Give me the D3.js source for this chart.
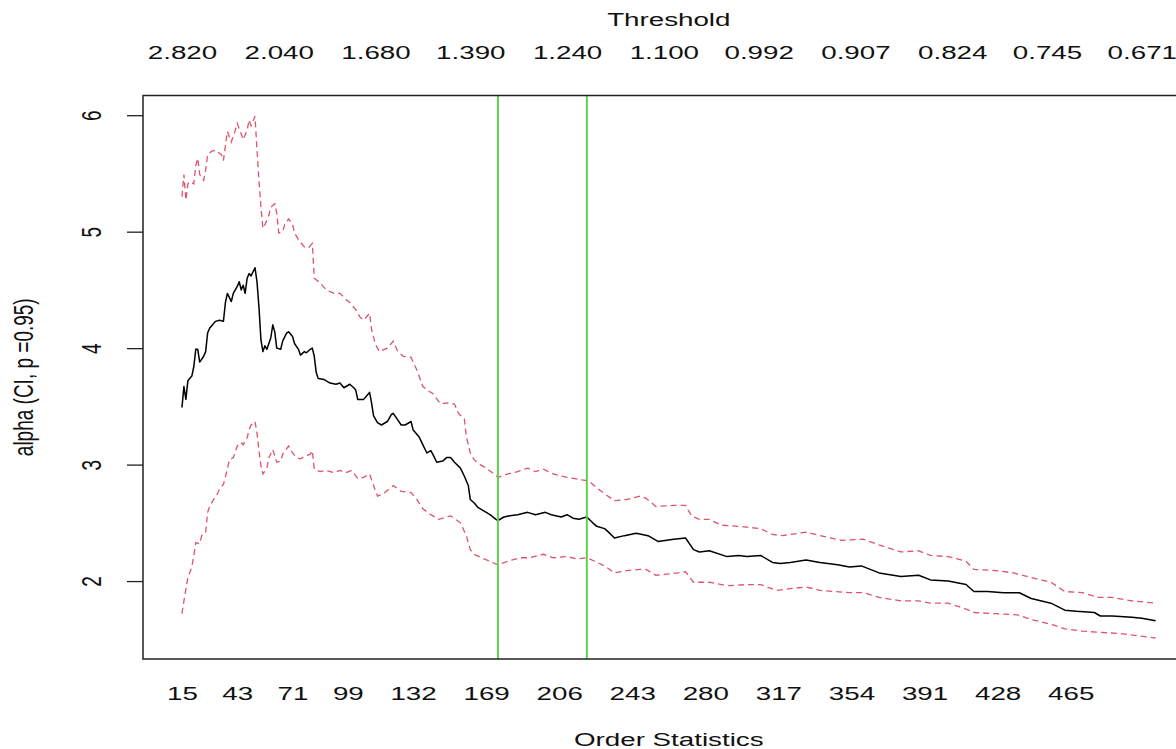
<!DOCTYPE html>
<html><head><meta charset="utf-8">
<script src="https://cdn.jsdelivr.net/npm/d3@7"></script>
<style>html,body{margin:0;padding:0;background:#fff;overflow:hidden}</style>
</head><body>
<svg id="chart" width="1176" height="749"></svg>
<script>
// ---- data ----
const alphaK = [15,16,17,18,20,21,22,23,24,26,27,28,29,32,34,36,37,38,40,41,43,44,45,46,47,48,49,50,52,53,54,55,56,57,58,60,61,62,63,65,66,68,69,71,72,74,75,77,78,80,81,82,83,84,87,90,93,95,97,100,102,103,104,107,109,110,111,112,114,116,119,121,122,124,126,128,131,132,135,137,139,141,142,144,147,149,151,153,156,158,160,161,163,165,168,171,174,175,178,181,185,190,194,199,202,207,210,213,216,220,223,225,229,231,234,239,245,251,256,264,270,274,277,282,291,297,301,308,314,318,323,331,338,347,353,359,368,379,388,394,403,412,416,423,431,439,445,455,462,468,477,480,486,496,501,508];
const alphaV = [3.49,3.67,3.56,3.72,3.76,3.84,3.99,3.99,3.88,3.93,3.97,4.13,4.17,4.23,4.24,4.23,4.39,4.47,4.40,4.47,4.53,4.57,4.50,4.54,4.47,4.60,4.64,4.62,4.69,4.57,4.35,4.07,3.97,4.02,3.99,4.09,4.20,4.14,4.00,3.99,4.06,4.13,4.14,4.10,4.04,3.99,3.94,3.97,3.96,3.99,4.00,3.93,3.79,3.74,3.73,3.70,3.69,3.70,3.66,3.69,3.66,3.64,3.56,3.56,3.60,3.62,3.53,3.42,3.36,3.34,3.37,3.43,3.44,3.39,3.34,3.34,3.37,3.30,3.24,3.17,3.10,3.12,3.09,3.02,3.03,3.06,3.06,3.02,2.97,2.90,2.82,2.70,2.67,2.63,2.60,2.57,2.53,2.52,2.55,2.56,2.57,2.59,2.57,2.59,2.57,2.55,2.57,2.54,2.53,2.55,2.50,2.47,2.45,2.42,2.37,2.39,2.41,2.39,2.34,2.36,2.37,2.27,2.25,2.26,2.21,2.22,2.21,2.22,2.16,2.15,2.16,2.18,2.16,2.14,2.12,2.13,2.07,2.04,2.05,2.01,2.00,1.97,1.91,1.91,1.90,1.90,1.85,1.81,1.75,1.74,1.73,1.70,1.70,1.69,1.68,1.66];

const upperK = [15,16,17,18,19,21,22,23,24,26,27,28,30,32,35,36,37,38,40,42,43,45,46,48,49,50,52,53,54,55,56,57,59,60,62,63,64,66,67,69,71,72,74,77,79,81,82,85,88,92,95,98,100,103,105,107,110,111,113,115,119,121,122,124,127,131,134,137,140,142,146,149,153,155,158,159,161,163,166,169,173,175,180,185,190,194,198,203,210,217,221,225,229,234,240,247,250,255,264,270,273,277,282,288,297,308,314,319,331,338,349,360,368,379,388,394,403,412,416,427,436,445,455,462,471,479,486,496,508];
const upperV = [5.30,5.49,5.27,5.41,5.43,5.41,5.57,5.63,5.49,5.44,5.53,5.66,5.69,5.70,5.66,5.61,5.74,5.86,5.77,5.87,5.93,5.84,5.79,5.87,5.96,5.91,5.99,5.70,5.44,5.21,5.03,5.06,5.14,5.21,5.24,5.16,4.99,5.00,5.06,5.11,5.06,4.99,4.93,4.87,4.86,4.90,4.60,4.56,4.50,4.47,4.47,4.42,4.39,4.33,4.27,4.24,4.30,4.16,4.03,3.97,4.00,4.04,4.06,3.98,3.93,3.92,3.81,3.67,3.63,3.61,3.52,3.53,3.52,3.44,3.39,3.24,3.10,3.04,3.00,2.97,2.92,2.89,2.92,2.94,2.97,2.94,2.96,2.92,2.89,2.87,2.86,2.80,2.75,2.69,2.70,2.73,2.71,2.64,2.65,2.65,2.56,2.53,2.53,2.48,2.47,2.45,2.40,2.39,2.42,2.39,2.35,2.36,2.31,2.25,2.26,2.22,2.21,2.17,2.10,2.09,2.07,2.03,1.99,1.91,1.90,1.86,1.86,1.83,1.81];

const lowerK = [15,16,17,18,20,21,22,24,25,27,28,29,31,33,34,36,38,39,41,43,45,46,48,49,50,52,53,54,55,56,58,59,61,63,65,66,69,71,73,75,77,80,81,82,85,88,92,95,98,101,104,107,110,112,114,117,122,126,131,134,137,141,145,151,156,159,161,163,168,175,180,186,191,198,203,210,215,220,224,229,234,240,247,250,255,266,270,274,282,291,301,308,316,331,338,353,360,368,379,388,394,403,412,416,427,438,445,457,462,471,479,490,499,508];
const lowerV = [1.72,1.83,1.93,2.03,2.12,2.22,2.33,2.32,2.39,2.42,2.59,2.64,2.70,2.75,2.79,2.83,2.96,3.04,3.06,3.16,3.19,3.17,3.23,3.30,3.34,3.37,3.27,3.12,2.99,2.92,2.97,3.06,3.13,3.02,3.03,3.09,3.16,3.10,3.06,3.05,3.07,3.09,3.12,2.96,2.94,2.95,2.93,2.95,2.93,2.95,2.88,2.89,2.92,2.82,2.73,2.75,2.82,2.77,2.76,2.70,2.62,2.57,2.53,2.56,2.50,2.39,2.27,2.23,2.19,2.14,2.17,2.20,2.20,2.23,2.20,2.21,2.19,2.20,2.17,2.13,2.07,2.09,2.10,2.10,2.05,2.07,2.08,1.99,1.99,1.96,1.97,1.97,1.92,1.95,1.92,1.90,1.90,1.86,1.83,1.83,1.81,1.81,1.76,1.73,1.72,1.71,1.67,1.62,1.59,1.57,1.56,1.55,1.53,1.51];

const bottomTickK = [15,43,71,99,132,169,206,243,280,317,354,391,428,465];
const topTickK = [15,64,113,161,210,259,307,356,405,453,501];
const topTickLabels = ["2.820","2.040","1.680","1.390","1.240","1.100","0.992","0.907","0.824","0.745","0.671"];
const yTicks = [2,3,4,5,6];
const markerK = [175,220];
const firstK = 15, lastK = 508;

(function draw() {
  const svg = d3.select("#chart");
  const pLeft = 143, pTop = 95.5, pBottom = 659;
  const pxPerK = 1.975;
  const stretch = 1.46;      // horizontal stretch of the reference text
  const font = "'Liberation Sans', Arial, Helvetica, sans-serif";
  const fs = 19;

  const padK = 0.04 * (lastK - firstK);
  const x = d3.scaleLinear()
    .domain([firstK - padK, lastK + padK])
    .range([pLeft, pLeft + (lastK - firstK + 2 * padK) * pxPerK]);

  const allCI = upperV.concat(lowerV);
  const yLo = d3.min(allCI), yHi = d3.max(allCI), padY = 0.04 * (yHi - yLo);
  const y = d3.scaleLinear().domain([yLo - padY, yHi + padY]).range([pBottom, pTop]);

  const pRight = x.range()[1];

  svg.append("defs").append("clipPath").attr("id", "plotclip")
    .append("rect").attr("x", pLeft).attr("y", pTop).attr("width", pRight - pLeft).attr("height", pBottom - pTop);

  const line = d3.line().x(d => x(d[0])).y(d => y(d[1]));
  const g = svg.append("g").attr("clip-path", "url(#plotclip)");

  g.append("path").datum(d3.zip(upperK, upperV))
    .attr("d", line).attr("fill", "none").attr("stroke", "#DF536B")
    .attr("stroke-width", 1.3).attr("stroke-dasharray", "6,4");
  g.append("path").datum(d3.zip(lowerK, lowerV))
    .attr("d", line).attr("fill", "none").attr("stroke", "#DF536B")
    .attr("stroke-width", 1.3).attr("stroke-dasharray", "6,4");
  g.append("path").datum(d3.zip(alphaK, alphaV))
    .attr("d", line).attr("fill", "none").attr("stroke", "#000")
    .attr("stroke-width", 1.5).attr("stroke-linejoin", "round");

  g.selectAll("line.marker").data(markerK).enter().append("line")
    .attr("class", "marker")
    .attr("x1", d => x(d)).attr("x2", d => x(d))
    .attr("y1", pTop).attr("y2", pBottom)
    .attr("stroke", "#61D04F").attr("stroke-width", 2);

  svg.append("rect").attr("x", pLeft).attr("y", pTop)
    .attr("width", pRight - pLeft).attr("height", pBottom - pTop)
    .attr("fill", "none").attr("stroke", "#222").attr("stroke-width", 1.5);

  const yAxis = d3.axisLeft(y).tickValues(yTicks).tickSize(16).tickFormat(d3.format("d"));
  const ya = svg.append("g").attr("transform", `translate(${pLeft},0)`).call(yAxis);
  ya.select(".domain").remove();
  ya.selectAll(".tick line").attr("stroke", "#222").attr("stroke-width", 1.3);
  ya.selectAll(".tick text").remove();
  ya.selectAll(".tick").append("text")
    .attr("transform", `translate(${101 - pLeft},0) scale(${stretch},1) rotate(-90)`)
    .attr("text-anchor", "middle").attr("fill", "#111")
    .style("font-family", font).style("font-size", fs + "px")
    .text(d => d);

  const xb = d3.axisBottom(x).tickValues(bottomTickK).tickSize(0).tickFormat(d => String(d));
  const xba = svg.append("g").attr("transform", `translate(0,${pBottom})`).call(xb);
  xba.select(".domain").remove();
  xba.selectAll(".tick text").remove();
  xba.selectAll(".tick").append("text")
    .attr("transform", `translate(0,${700 - pBottom}) scale(${stretch},1)`)
    .attr("text-anchor", "middle").attr("fill", "#111")
    .style("font-family", font).style("font-size", fs + "px")
    .text(d => String(d));

  const xt = d3.axisTop(x).tickValues(topTickK).tickSize(0).tickFormat((d, i) => topTickLabels[i]);
  const xta = svg.append("g").attr("transform", `translate(0,${pTop})`).call(xt);
  xta.select(".domain").remove();
  xta.selectAll(".tick text").remove();
  xta.selectAll(".tick").append("text")
    .attr("transform", `translate(0,${59 - pTop}) scale(${stretch},1)`)
    .attr("text-anchor", "middle").attr("fill", "#111")
    .style("font-family", font).style("font-size", fs + "px")
    .text((d, i) => topTickLabels[i]);

  const cx = (pLeft + pRight) / 2;
  svg.append("text").attr("transform", `translate(${cx},746) scale(${stretch},1)`)
    .attr("text-anchor", "middle").attr("fill", "#111")
    .style("font-family", font).style("font-size", fs + "px").text("Order Statistics");
  svg.append("text").attr("transform", `translate(${cx},26) scale(${stretch},1)`)
    .attr("text-anchor", "middle").attr("fill", "#111")
    .style("font-family", font).style("font-size", fs + "px").text("Threshold");
  svg.append("text").attr("transform", `translate(33,${(pTop + pBottom) / 2}) scale(${stretch},1) rotate(-90)`)
    .attr("text-anchor", "middle").attr("fill", "#111")
    .style("font-family", font).style("font-size", fs + "px").text("alpha (CI, p =0.95)");
})();
</script>
</body></html>
